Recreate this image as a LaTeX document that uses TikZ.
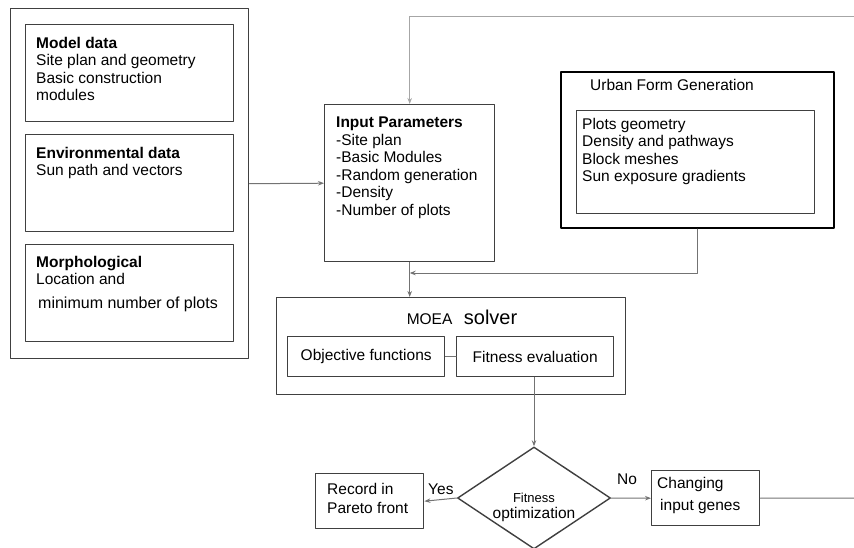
\documentclass[tikz,border=0pt]{standalone}
\usepackage{fontspec}
\setmainfont{Liberation Sans}
\usetikzlibrary{arrows.meta,shapes.geometric,positioning}

\begin{document}
\begin{tikzpicture}[x=1pt,y=-1pt,line cap=round,line join=round,
  box/.style={draw=black!75,line width=1.4pt,anchor=north west,inner sep=0pt},
  txt/.style={anchor=north west,align=left,inner sep=0pt,font=\fontsize{15.5}{17.6}\selectfont},
  link/.style={draw=black!55,line width=1pt},
  arr/.style={link,-{Stealth[length=6pt,width=4.5pt]}}]
 \useasboundingbox (0,0) rectangle (854,547);
 % input data
 \node[box,minimum width=238pt,minimum height=350pt] (src) at (10,8) {};
 \node[box,minimum width=208pt,minimum height=97pt] (model) at (25,24) {};
 \node[box,minimum width=208pt,minimum height=97pt] (env) at (25,134) {};
 \node[box,minimum width=208pt,minimum height=97pt] (morph) at (25,244) {};
 \node[txt] (modeltxt) at (36,36.7) {\textbf{Model data}\\Site plan and geometry\\Basic construction\\modules};
 \node[txt] (envtxt) at (36,146.7) {\textbf{Environmental data}\\Sun path and vectors};
 \node[txt] (morphtxt) at (36,255.7) {\textbf{Morphological}\\Location and\\[6pt]\hspace{2pt}{\fontsize{16}{18}\selectfont minimum number of plots}};
 % parameters and generation
 \node[box,minimum width=170pt,minimum height=157pt] (inp) at (324,104) {};
 \node[txt] (inptxt) at (336,116.7) {\textbf{Input Parameters}\\-Site plan\\-Basic Modules\\-Random generation\\-Density\\-Number of plots};
 \node[box,draw=black,line width=2.2pt,minimum width=273pt,minimum height=156pt] (urb) at (560,71) {};
 \node[box,minimum width=238pt,minimum height=103pt] (urbin) at (576,110) {};
 \node[txt] (urbtitle) at (590,78.7) {Urban Form Generation};
 \node[txt] (urbtxt) at (582,117.7) {Plots geometry\\Density and pathways\\Block meshes\\Sun exposure gradients};
 % solver
 \node[box,minimum width=349pt,minimum height=97pt] (moea) at (276,297) {};
 \node[anchor=base,inner sep=0pt,font=\fontsize{15.5}{18}\selectfont] (moeatitle) at (462,324) {MOEA\hspace{11.5pt}{\fontsize{20}{22}\selectfont solver}};
 \node[box,minimum width=157pt,minimum height=40pt,font=\fontsize{15.5}{17.6}\selectfont] (obj) at (287,336) {Objective functions};
 \node[box,minimum width=157pt,minimum height=40pt,font=\fontsize{15.5}{17.6}\selectfont] (fit) at (456,336) {Fitness evaluation};
 % decision
 \node[draw=black!75,line width=1.4pt,diamond,minimum width=153pt,minimum height=102pt,inner sep=0pt] (dia) at (534,498) {};
 \node[anchor=north,align=center,inner sep=0pt,font=\fontsize{15.5}{16}\selectfont] (diatxt) at (534,492.7) {{\fontsize{13}{15}\selectfont Fitness\hspace{6pt}}\\optimization};
 \node[box,minimum width=108pt,minimum height=55pt] (rec) at (315,473) {};
 \node[txt,font=\fontsize{15.5}{19}\selectfont] (rectxt) at (327,482.7) {Record in\\Pareto front};
 \node[box,minimum width=108pt,minimum height=55pt] (chg) at (651,470) {};
 \node[txt] (chgtxt) at (657,476.7) {Changing\\[5pt]\hspace{3pt}input genes};
 \node[anchor=base west,inner sep=0pt,font=\fontsize{15.5}{17.6}\selectfont] (yes) at (428,494) {Yes};
 \node[anchor=base west,inner sep=0pt,font=\fontsize{15.5}{17.6}\selectfont] (no) at (617,484) {No};
 % connectors
 \coordinate (topend) at (854,16);
 \coordinate (merge) at (inp.south |- 0,273);
 \coordinate (chgend) at (854,498);
 \draw[arr,draw=black!35] (topend) -| (inp.north);
 \draw[arr] (src.east) -- (inp.west);
 \draw[arr] (urb.south) |- (merge);
 \draw[arr] (inp.south) -- (inp.south |- moea.north);
 \draw[link] (obj) -- (fit);
 \draw[arr] (fit.south -| dia.north) -- (dia.north);
 \draw[arr] (dia.west) -- (rec.east);
 \draw[arr] (dia.east) -- (chg.west);
 \draw[link] (chg.east) -- (chgend);
\end{tikzpicture}
\end{document}
